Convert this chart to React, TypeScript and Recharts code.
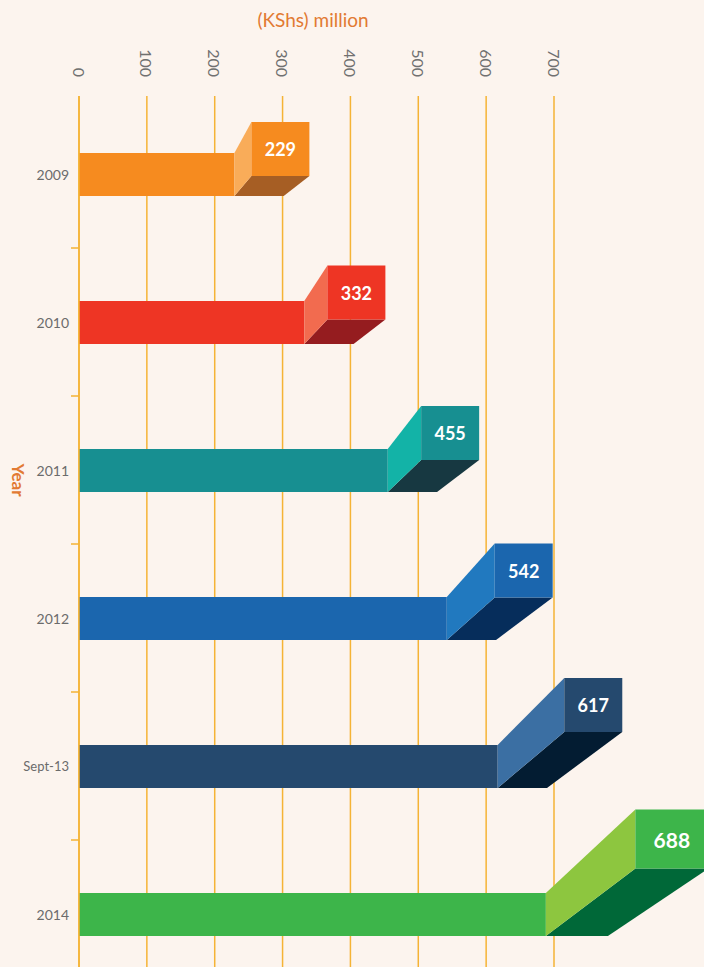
import { BarChart, Bar, XAxis, YAxis, CartesianGrid } from 'recharts'

const years = ['2009', '2010', '2011', '2012', 'Sept-13', '2014']
const amounts = [229, 332, 455, 542, 617, 688]
const xTicks = [0, 100, 200, 300, 400, 500, 600, 700]

// front / lit side / shaded bottom of each block
const frontColors = ['#f68b1f', '#ee3524', '#178f91', '#1b66ae', '#25496e', '#3db54a']
const sideColors = ['#f9ac59', '#f26b4f', '#13b3a7', '#2179bf', '#3b6fa3', '#8dc63f']
const bottomColors = ['#a65e24', '#951c1f', '#173841', '#062d5b', '#031c32', '#006838']

const data = years.map((year, i) => ({ year, amount: amounts[i] }))

const GRID = '#f5b335'
const ORANGE = '#e27a33'
const FONT = 'Lato, "DejaVu Sans", sans-serif'

function BoxBar(props: any) {
  const { x, y, width, height, index, payload } = props
  const i = index
  // perspective gets deeper for lower bars
  const dx = 17 + 4 * i + 2.1 * i * i
  const dy = -(31 + 3 * i + 1.5 * i * i)
  const near = i >= 5
  const bw = near ? 73 : 58
  const bh = near ? 59 : 54
  const endX = x + width
  const bottom = y + height
  const bx = endX + dx
  const by = y + dy
  return (
    <g>
      <rect x={x} y={y} width={width} height={height} fill={frontColors[i]} />
      <polygon
        points={`${endX},${bottom} ${bx},${by + bh} ${bx + bw},${by + bh} ${endX + bw * 0.85},${bottom}`}
        fill={bottomColors[i]}
      />
      <polygon
        points={`${endX},${y} ${bx},${by} ${bx},${by + bh} ${endX},${bottom}`}
        fill={sideColors[i]}
      />
      <rect x={bx} y={by} width={bw} height={bh} fill={frontColors[i]} />
      <text
        x={bx + bw / 2}
        y={by + bh / 2}
        textAnchor="middle"
        dominantBaseline="central"
        fill="#fff"
        fontWeight="bold"
        fontSize={near ? 21 : 18}
        fontFamily={FONT}
      >
        {payload.amount}
      </text>
    </g>
  )
}

function ValueTick({ x, y, payload }: any) {
  return (
    <text
      x={x}
      y={y}
      transform={`rotate(90, ${x}, ${y})`}
      textAnchor="end"
      dominantBaseline="central"
      fill="#707070"
      fontSize={16}
      fontFamily={FONT}
    >
      {payload.value}
    </text>
  )
}

function YearTick({ x, y, payload, index }: any) {
  return (
    <g>
      <text
        x={x}
        y={y}
        textAnchor="end"
        dominantBaseline="central"
        fill="#6b6b6b"
        fontSize={payload.value.length > 4 ? 13 : 14}
        fontFamily={FONT}
      >
        {payload.value}
      </text>
      {index < years.length - 1 && (
        <line x1={x + 2} x2={x + 10} y1={y + 74} y2={y + 74} stroke={GRID} strokeWidth={1.5} />
      )}
    </g>
  )
}

export default function App() {
  return (
    <div
      style={{
        position: 'absolute',
        left: 0,
        top: 0,
        width: 704,
        height: 967,
        background: '#fcf4ee',
        overflow: 'hidden'
      }}
    >
      <div
        style={{
          position: 'absolute',
          left: 213,
          width: 200,
          top: 9,
          textAlign: 'center',
          fontSize: 19,
          lineHeight: '22px',
          color: ORANGE,
          fontFamily: FONT
        }}
      >
        (KShs) million
      </div>
      <div
        style={{
          position: 'absolute',
          left: 18,
          top: 480,
          transform: 'translate(-50%, -50%) rotate(90deg)',
          fontSize: 17,
          fontWeight: 'bold',
          color: ORANGE,
          fontFamily: FONT
        }}
      >
        Year
      </div>
      <BarChart
        width={704}
        height={990}
        data={data}
        layout="vertical"
        margin={{ top: 0, right: 150, bottom: 2, left: 0 }}
      >
        <CartesianGrid horizontal={false} stroke={GRID} strokeWidth={1.5} />
        <XAxis
          type="number"
          orientation="top"
          domain={[0, 700]}
          ticks={xTicks}
          interval={0}
          height={96}
          axisLine={false}
          tickLine={false}
          tickMargin={13}
          tick={<ValueTick />}
        />
        <YAxis
          type="category"
          dataKey="year"
          width={79}
          padding={{ top: 4, bottom: 0 }}
          axisLine={{ stroke: GRID, strokeWidth: 1.5 }}
          tickLine={false}
          tickMargin={4}
          tick={<YearTick />}
        />
        <Bar dataKey="amount" barSize={43} isAnimationActive={false} shape={<BoxBar />} />
      </BarChart>
    </div>
  )
}
